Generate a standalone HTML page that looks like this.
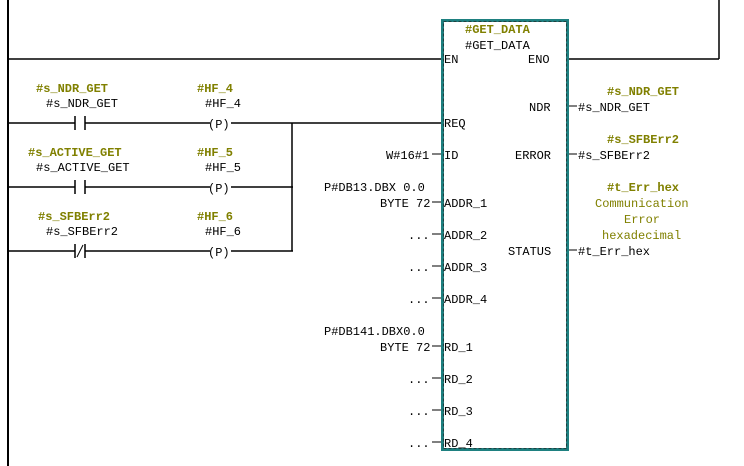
<!DOCTYPE html>
<html><head><meta charset="utf-8"><style>
html,body{margin:0;padding:0;background:#fff;}
svg{display:block;}
text{font-family:"Liberation Mono",monospace;font-size:12px;fill:#000;}
.o{fill:#808000;font-weight:bold;}
.c{fill:#808000;}
</style></head><body>
<svg width="744" height="466" viewBox="0 0 744 466" xmlns="http://www.w3.org/2000/svg">
<g stroke="#000" stroke-width="1.5" fill="none">
<line x1="8" y1="0" x2="8" y2="466" stroke-width="2"/>
<line x1="8" y1="59" x2="442" y2="59"/>
<line x1="569" y1="59" x2="719" y2="59"/>
<line x1="719" y1="0" x2="719" y2="59"/>
<!-- rungs -->
<line x1="8" y1="123" x2="75" y2="123"/><line x1="85" y1="123" x2="210" y2="123"/><line x1="231" y1="123" x2="442" y2="123"/>
<line x1="8" y1="187" x2="75" y2="187"/><line x1="85" y1="187" x2="210" y2="187"/><line x1="231" y1="187" x2="293" y2="187"/>
<line x1="8" y1="251" x2="75" y2="251"/><line x1="85" y1="251" x2="210" y2="251"/><line x1="231" y1="251" x2="293" y2="251"/>
<line x1="292" y1="123" x2="292" y2="251"/>
<line x1="75" y1="116" x2="75" y2="130"/><line x1="85" y1="116" x2="85" y2="130"/>
<line x1="75" y1="180" x2="75" y2="194"/><line x1="85" y1="180" x2="85" y2="194"/>
<line x1="75" y1="244" x2="75" y2="258"/><line x1="85" y1="244" x2="85" y2="258"/>
<line x1="77" y1="257" x2="83" y2="245" stroke-width="1"/>
<!-- pin stubs -->
<g stroke-width="1">
<line x1="432" y1="154" x2="442" y2="154"/>
<line x1="432" y1="202" x2="442" y2="202"/>
<line x1="432" y1="234" x2="442" y2="234"/>
<line x1="432" y1="266" x2="442" y2="266"/>
<line x1="432" y1="298" x2="442" y2="298"/>
<line x1="432" y1="346" x2="442" y2="346"/>
<line x1="432" y1="378" x2="442" y2="378"/>
<line x1="432" y1="410" x2="442" y2="410"/>
<line x1="432" y1="442" x2="442" y2="442"/>
<line x1="569" y1="106" x2="577" y2="106"/>
<line x1="569" y1="154" x2="577" y2="154"/>
<line x1="569" y1="250" x2="577" y2="250"/>
</g>
</g>
<rect x="442.5" y="20.5" width="125" height="429" fill="none" stroke="#1e8080" stroke-width="3"/>
<rect x="443.5" y="21.5" width="123" height="427" fill="none" stroke="#204040" stroke-width="1" stroke-dasharray="3,2"/>
<!-- coils -->
<text x="208" y="128">(P)</text>
<text x="208" y="192">(P)</text>
<text x="208" y="256">(P)</text>
<!-- left labels -->
<text class="o" x="36" y="92">#s_NDR_GET</text>
<text x="46" y="107">#s_NDR_GET</text>
<text class="o" x="197" y="92">#HF_4</text>
<text x="205" y="107">#HF_4</text>
<text class="o" x="28" y="156">#s_ACTIVE_GET</text>
<text x="36" y="171">#s_ACTIVE_GET</text>
<text class="o" x="197" y="156">#HF_5</text>
<text x="205" y="171">#HF_5</text>
<text class="o" x="38" y="220">#s_SFBErr2</text>
<text x="46" y="235">#s_SFBErr2</text>
<text class="o" x="197" y="220">#HF_6</text>
<text x="205" y="235">#HF_6</text>
<!-- block -->
<text class="o" x="465" y="33">#GET_DATA</text>
<text x="465" y="49">#GET_DATA</text>
<text x="444" y="63">EN</text>
<text x="528" y="63">ENO</text>
<text x="529" y="111">NDR</text>
<text x="444" y="127">REQ</text>
<text x="444" y="159">ID</text>
<text x="515" y="159">ERROR</text>
<text x="444" y="207">ADDR_1</text>
<text x="444" y="239">ADDR_2</text>
<text x="508" y="255">STATUS</text>
<text x="444" y="271">ADDR_3</text>
<text x="444" y="303">ADDR_4</text>
<text x="444" y="351">RD_1</text>
<text x="444" y="383">RD_2</text>
<text x="444" y="415">RD_3</text>
<text x="444" y="447">RD_4</text>
<!-- left params -->
<text x="386" y="159">W#16#1</text>
<text x="324" y="191">P#DB13.DBX 0.0</text>
<text x="380" y="207">BYTE 72</text>
<text x="408" y="239">...</text>
<text x="408" y="271">...</text>
<text x="408" y="303">...</text>
<text x="324" y="335">P#DB141.DBX0.0</text>
<text x="380" y="351">BYTE 72</text>
<text x="408" y="383">...</text>
<text x="408" y="415">...</text>
<text x="408" y="447">...</text>
<!-- right params -->
<text class="o" x="607" y="95">#s_NDR_GET</text>
<text x="578" y="111">#s_NDR_GET</text>
<text class="o" x="607" y="143">#s_SFBErr2</text>
<text x="578" y="159">#s_SFBErr2</text>
<text class="o" x="607" y="191">#t_Err_hex</text>
<text class="c" x="595" y="207">Communication</text>
<text class="c" x="624" y="223">Error</text>
<text class="c" x="602" y="239">hexadecimal</text>
<text x="578" y="255">#t_Err_hex</text>
</svg>
</body></html>
